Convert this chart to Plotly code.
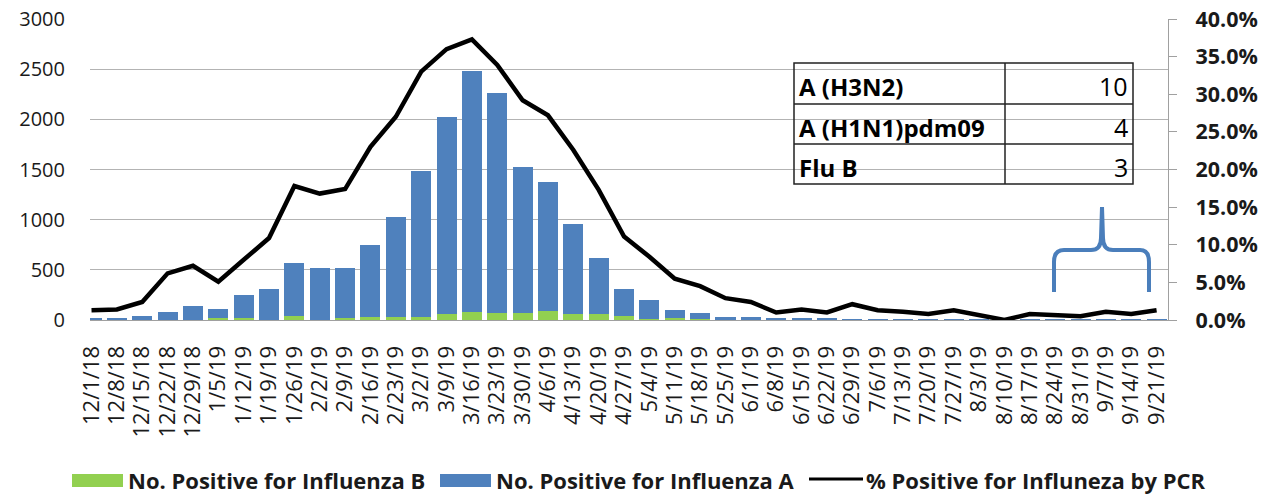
import plotly.graph_objects as go

weeks = ["12/1/18", "12/8/18", "12/15/18", "12/22/18", "12/29/18", "1/5/19", "1/12/19", "1/19/19",
         "1/26/19", "2/2/19", "2/9/19", "2/16/19", "2/23/19", "3/2/19", "3/9/19", "3/16/19",
         "3/23/19", "3/30/19", "4/6/19", "4/13/19", "4/20/19", "4/27/19", "5/4/19", "5/11/19",
         "5/18/19", "5/25/19", "6/1/19", "6/8/19", "6/15/19", "6/22/19", "6/29/19", "7/6/19",
         "7/13/19", "7/20/19", "7/27/19", "8/3/19", "8/10/19", "8/17/19", "8/24/19", "8/31/19",
         "9/7/19", "9/14/19", "9/21/19"]

flu_b = [2, 2, 3, 4, 5, 18, 18, 4, 42, 3, 18, 28, 28, 28, 57, 80, 67, 67, 93, 57,
         57, 43, 15, 18, 10, 3, 3, 2, 2, 1, 1, 1, 1, 1, 1, 1, 0, 1, 1, 1, 1, 1, 1]

flu_a = [18, 18, 40, 78, 130, 87, 232, 306, 523, 512, 497, 717, 997, 1457, 1963, 2400, 2198, 1455, 1287, 903,
         558, 267, 180, 77, 55, 27, 27, 16, 13, 11, 9, 6, 6, 5, 6, 5, 4, 6, 5, 5, 6, 6, 6]

pct_pos = [0.013, 0.014, 0.024, 0.062, 0.072, 0.051, 0.080, 0.109, 0.178, 0.168, 0.174, 0.230, 0.270,
           0.330, 0.360, 0.373, 0.339, 0.292, 0.272, 0.226, 0.173, 0.111, 0.084, 0.055, 0.045,
           0.029, 0.024, 0.010, 0.014, 0.010, 0.021, 0.013, 0.011, 0.008, 0.013, 0.007, 0.000,
           0.008, 0.006, 0.005, 0.011, 0.008, 0.013]

subtypes = ["A (H3N2)", "A (H1N1)pdm09", "Flu B"]
subtype_counts = [10, 4, 3]

legend_names = ["No. Positive for Influenza B", "No. Positive for Influenza A",
                "% Positive for Influneza by PCR"]

BLUE = "#4f81bd"
GREEN = "#92d050"
FONT = "Open Sans"

# plot-area pixel geometry
W, H = 1261, 495
L, R, T, B = 90, 1168, 19, 320


def px(x):
    return (x - L) / (R - L)


def py(y):
    return (B - y) / (B - T)


fig = go.Figure()
fig.add_trace(go.Bar(x=weeks, y=flu_b, name=legend_names[0], marker=dict(color=GREEN, line=dict(width=0))))
fig.add_trace(go.Bar(x=weeks, y=flu_a, name=legend_names[1], marker=dict(color=BLUE, line=dict(width=0))))
fig.add_trace(go.Scatter(x=weeks, y=pct_pos, name=legend_names[2], yaxis="y2", mode="lines",
                         line=dict(color="black", width=4.5)))

shapes = []
annotations = []

# custom legend
leg_y = 480
LEG_FONT = dict(family=FONT, size=22, color="#1a1a1a")
shapes.append(dict(type="rect", xref="paper", yref="paper", x0=px(72), x1=px(123), y0=py(487), y1=py(474),
                    fillcolor=GREEN, line=dict(width=0)))
annotations.append(dict(xref="paper", yref="paper", x=px(126), y=py(leg_y), xanchor="left", yanchor="middle",
                        text="<b>" + legend_names[0] + "</b>", showarrow=False, font=LEG_FONT))
shapes.append(dict(type="rect", xref="paper", yref="paper", x0=px(440), x1=px(491), y0=py(487), y1=py(474),
                    fillcolor=BLUE, line=dict(width=0)))
annotations.append(dict(xref="paper", yref="paper", x=px(494), y=py(leg_y), xanchor="left", yanchor="middle",
                        text="<b>" + legend_names[1] + "</b>", showarrow=False, font=LEG_FONT))
shapes.append(dict(type="line", xref="paper", yref="paper", x0=px(809), x1=px(863), y0=py(479), y1=py(479),
                    line=dict(color="black", width=3)))
annotations.append(dict(xref="paper", yref="paper", x=px(864), y=py(leg_y), xanchor="left", yanchor="middle",
                        text="<b>" + legend_names[2] + "</b>", showarrow=False, font=LEG_FONT))

# subtype table
tx0, tx1, tcol = 794, 1133, 1005
row_edges = [63, 104, 144, 184]
tline = dict(color="#222222", width=1.5)
shapes.append(dict(type="rect", xref="paper", yref="paper", x0=px(tx0), x1=px(tx1),
                   y0=py(row_edges[-1]), y1=py(row_edges[0]), line=tline))
for ry in row_edges[1:-1]:
    shapes.append(dict(type="line", xref="paper", yref="paper", x0=px(tx0), x1=px(tx1),
                       y0=py(ry), y1=py(ry), line=tline))
shapes.append(dict(type="line", xref="paper", yref="paper", x0=px(tcol), x1=px(tcol),
                   y0=py(row_edges[-1]), y1=py(row_edges[0]), line=tline))
for i, (name, cnt) in enumerate(zip(subtypes, subtype_counts)):
    cy = (row_edges[i] + row_edges[i + 1]) / 2 + 3
    annotations.append(dict(xref="paper", yref="paper", x=px(tx0 + 3), y=py(cy), xanchor="left",
                            yanchor="middle", text="<b>" + name + "</b>", showarrow=False,
                            font=dict(family=FONT, size=24, color="black")))
    annotations.append(dict(xref="paper", yref="paper", x=px(tx1 - 3), y=py(cy), xanchor="right",
                            yanchor="middle", text=str(cnt), showarrow=False,
                            font=dict(family=FONT, size=25, color="black")))

# curly brace over late-season weeks
pts = [
    ("M", [(1054, 292)]),
    ("L", [(1054, 262)]),
    ("Q", [(1054, 250), (1064, 250)]),
    ("L", [(1091, 250)]),
    ("Q", [(1101, 250), (1101, 238)]),
    ("L", [(1102, 207)]),
    ("L", [(1103, 238)]),
    ("Q", [(1103, 250), (1113, 250)]),
    ("L", [(1140, 250)]),
    ("Q", [(1149, 250), (1149, 262)]),
    ("L", [(1149, 292)]),
]
path = ""
for cmd, ps in pts:
    path += cmd + " " + " ".join(f"{px(x):.5f},{py(y):.5f}" for x, y in ps) + " "
shapes.append(dict(type="path", xref="paper", yref="paper", path=path.strip(),
                   line=dict(color="#4a7ebb", width=4)))

fig.update_layout(
    width=W, height=H,
    margin=dict(l=L, r=W - R, t=T, b=H - B, autoexpand=False),
    barmode="stack", bargap=0.21,
    plot_bgcolor="white", paper_bgcolor="white",
    showlegend=False,
    font=dict(family=FONT, color="#1a1a1a"),
    xaxis=dict(type="category", range=[-0.06, 42.45], tickangle=-90, showgrid=False,
               tickmode="linear", tick0=0, dtick=1,
               showline=True, linecolor="#a0a0a0", linewidth=1.3, ticks="",
               ticklabelstandoff=16, tickfont=dict(family=FONT, size=22, color="#1a1a1a")),
    yaxis=dict(range=[0, 3000], dtick=500, showgrid=True, gridcolor="#b3b3b3", gridwidth=1.3,
               zeroline=False, showline=False, ticks="", ticklabelstandoff=24,
               tickfont=dict(family=FONT, size=20, color="#1a1a1a")),
    yaxis2=dict(range=[0, 0.40], dtick=0.05, tickformat=".1%", overlaying="y", side="right",
                showgrid=False, zeroline=False, showline=True, linecolor="#a0a0a0", linewidth=1.3,
                ticks="outside", ticklen=8, tickcolor="#a0a0a0", ticklabelstandoff=14,
                tickfont=dict(family=FONT, size=21.5, color="#1a1a1a", weight="bold")),
    shapes=shapes,
    annotations=annotations,
)

fig.write_html("out.html")
